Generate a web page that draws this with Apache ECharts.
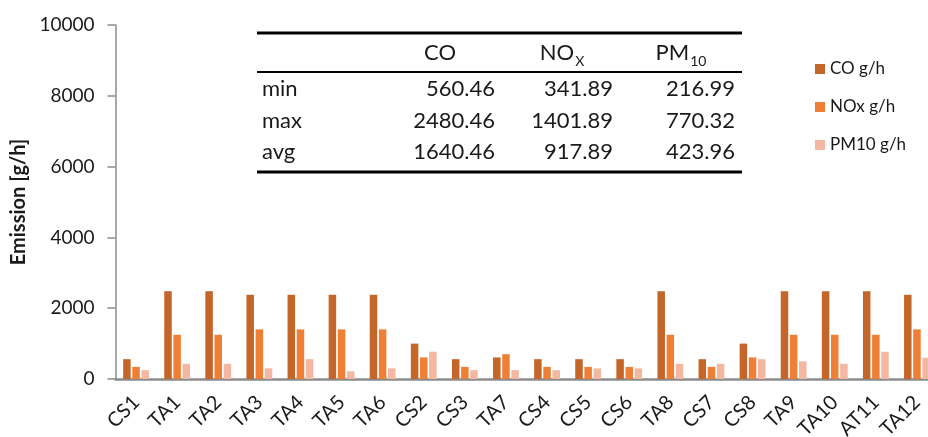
<!DOCTYPE html>
<html>
<head>
<meta charset="utf-8">
<script src="https://cdn.jsdelivr.net/npm/echarts@6/dist/echarts.min.js"></script>
<style>
html,body{margin:0;padding:0;background:#fff;}
#main{width:928px;height:437px;}
</style>
</head>
<body>
<div id="main"></div>
<script>
var categories = ['CS1','TA1','TA2','TA3','TA4','TA5','TA6','CS2','CS3','TA7','CS4','CS5','CS6','TA8','CS7','CS8','TA9','TA10','AT11','TA12'];
var coValues   = [560, 2480, 2480, 2380, 2380, 2380, 2380, 1000, 560, 610, 560, 560, 560, 2480, 560, 1000, 2480, 2480, 2480, 2380];
var noxValues  = [342, 1250, 1250, 1402, 1402, 1402, 1402, 610, 342, 700, 342, 342, 342, 1250, 342, 610, 1250, 1250, 1250, 1402];
var pmValues   = [250, 430, 430, 300, 560, 217, 300, 770, 250, 250, 250, 300, 300, 430, 430, 560, 500, 430, 770, 600];
var seriesNames = ['CO g/h', 'NOx g/h', 'PM10 g/h'];
var yTicks = [0, 2000, 4000, 6000, 8000, 10000];

var tableHeaders = ['{m|CO}', '{m|NO}{s|X}', '{m|PM}{s|10}'];
var tableRowLabels = ['min', 'max', 'avg'];
var tableCO  = ['560.46', '2480.46', '1640.46'];
var tableNOx = ['341.89', '1401.89', '917.89'];
var tablePM  = ['216.99', '770.32', '423.96'];

var FONT = 'Lato, "Open Sans", sans-serif';
var TXT = '#1a1a1a';
var colors = ['#C4652A', '#EE7F35', '#F4B7A2'];

var chart = echarts.init(document.getElementById('main'));

var graphics = [];
var tx0 = 257, tx1 = 742;
[[33, 3], [72, 2], [172, 3]].forEach(function (l) {
  graphics.push({type: 'line', shape: {x1: tx0, y1: l[0], x2: tx1, y2: l[0]}, style: {stroke: '#000', lineWidth: l[1]}});
});
var headerX = [440, 562, 681];
tableHeaders.forEach(function (h, i) {
  graphics.push({type: 'text', x: headerX[i], y: 51, style: {
    text: h, align: 'center', verticalAlign: 'middle',
    rich: {
      m: {fontFamily: FONT, fontSize: 22, fill: TXT, lineHeight: 26, verticalAlign: 'bottom'},
      s: {fontFamily: FONT, fontSize: 14, fill: TXT, lineHeight: 26, verticalAlign: 'bottom', padding: [0, 0, -4, 1]}
    }
  }});
});
var rowY = [89, 120.5, 152];
var colRight = [495, 613, 735];
var cols = [tableCO, tableNOx, tablePM];
tableRowLabels.forEach(function (r, i) {
  graphics.push({type: 'text', x: 262, y: rowY[i], style: {text: r, align: 'left', verticalAlign: 'middle', fontFamily: FONT, fontSize: 22, fill: TXT}});
  cols.forEach(function (c, j) {
    graphics.push({type: 'text', x: colRight[j], y: rowY[i], style: {text: c[i], align: 'right', verticalAlign: 'middle', fontFamily: FONT, fontSize: 22, fill: TXT}});
  });
});

function mkSeries(name, data, color) {
  return {
    name: name, type: 'bar', data: data, barWidth: 7.5, barGap: '22%',
    itemStyle: {color: color}, emphasis: {disabled: true}
  };
}

chart.setOption({
  animation: false,
  color: colors,
  grid: {left: 115.5, right: -9.5, top: 25, bottom: 58, containLabel: false, outerBoundsMode: 'none'},
  legend: {
    orient: 'vertical', left: 810, top: 54,
    itemWidth: 10, itemHeight: 10, itemGap: 18, icon: 'rect',
    textStyle: {fontFamily: FONT, fontSize: 17, color: TXT, lineHeight: 20},
    data: seriesNames
  },
  xAxis: {
    type: 'category', data: categories,
    axisLine: {lineStyle: {color: '#8c8c8c', width: 2.5}},
    axisTick: {show: false},
    axisLabel: {rotate: 45, margin: 20, fontFamily: FONT, fontSize: 20, color: TXT, interval: 0}
  },
  yAxis: {
    type: 'value', min: yTicks[0], max: yTicks[yTicks.length - 1], interval: 2000,
    name: 'Emission [g/h]', nameLocation: 'middle', nameGap: 85, nameRotate: 90,
    nameTextStyle: {fontFamily: FONT, fontSize: 20, fontWeight: 'bold', color: TXT},
    axisLine: {show: true, lineStyle: {color: '#8c8c8c', width: 1.5}},
    axisTick: {show: true, inside: false, length: 8, lineStyle: {color: '#8c8c8c', width: 1.5}},
    splitLine: {show: false},
    axisLabel: {margin: 21, fontFamily: FONT, fontSize: 19, color: TXT, formatter: function (v) { return String(v); }}
  },
  series: [
    mkSeries(seriesNames[0], coValues, colors[0]),
    mkSeries(seriesNames[1], noxValues, colors[1]),
    mkSeries(seriesNames[2], pmValues, colors[2])
  ],
  graphic: graphics
});
</script>
</body>
</html>
